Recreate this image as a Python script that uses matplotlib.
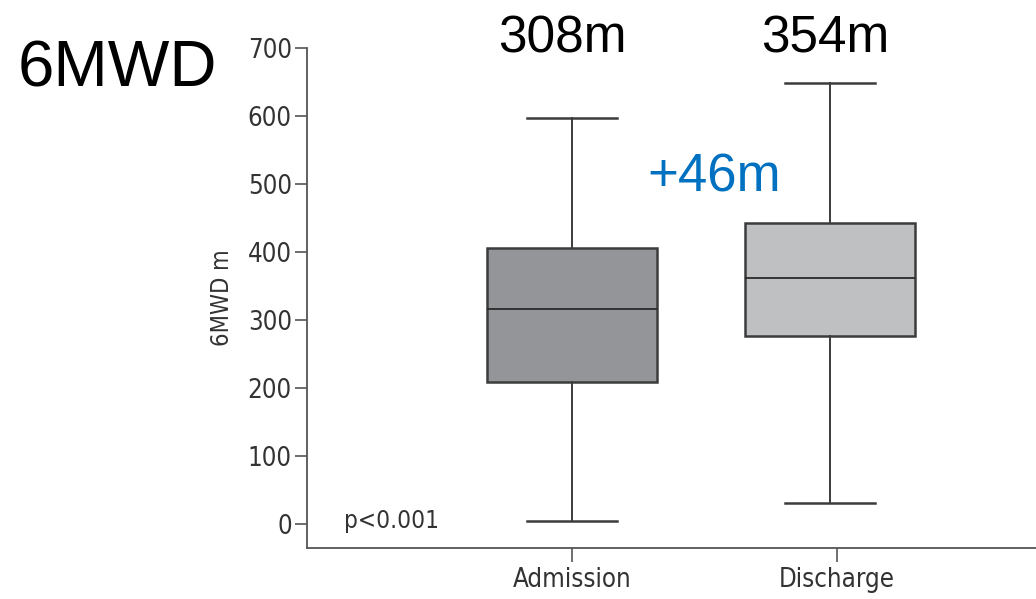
import matplotlib.pyplot as plt

# box statistics (metres)
groups = ["Admission", "Discharge"]
q1 = [209, 277]
med = [316, 362]
q3 = [406, 443]
whislo = [5, 31]
whishi = [596, 648]
box_colors = ["#949599", "#bfc0c2"]

yticks = [0, 100, 200, 300, 400, 500, 600, 700]

fig = plt.figure(figsize=(10.36, 5.99), dpi=100)
ax = fig.add_axes([0.2963, 0.0851, 0.7037, 0.8356])

stats = []
for i, g in enumerate(groups):
    stats.append({"label": g, "q1": q1[i], "med": med[i], "q3": q3[i],
                  "whislo": whislo[i], "whishi": whishi[i], "fliers": []})

edge = "#3c3c3c"
bp = ax.bxp(stats, positions=[1, 1.974], widths=0.64, capwidths=0.34,
            patch_artist=True, showfliers=False,
            boxprops=dict(edgecolor=edge, linewidth=1.8),
            whiskerprops=dict(color=edge, linewidth=1.4),
            capprops=dict(color=edge, linewidth=1.8),
            medianprops=dict(color="#2a2a2a", linewidth=1.3))
for patch, c in zip(bp["boxes"], box_colors):
    patch.set_facecolor(c)

lab = dict(family="DejaVu Sans", stretch="condensed", color="#333333")

ax.set_xlim(0, 2.75)
ax.set_ylim(-35, 700)
ax.set_yticks(yticks)
ax.set_yticklabels([str(v) for v in yticks], fontsize=18.5, **lab)
ax.set_xticks([1, 2])
ax.set_xticklabels(groups, fontsize=18.5, **lab)
for s in ["top", "right"]:
    ax.spines[s].set_visible(False)
for s in ["left", "bottom"]:
    ax.spines[s].set_color("#555555")
    ax.spines[s].set_linewidth(1.3)
ax.tick_params(axis="y", length=9, width=1.2, color="#555555", pad=2)
ax.tick_params(axis="x", length=10, width=1.2, color="#555555", pad=4)
ax.set_ylabel("6MWD m", fontsize=17, labelpad=10, **lab)

ax.text(0.14, 5, "p<0.001", fontsize=17.5, va="center", **lab)

big = "Liberation Sans"
fig.text(0.017, 0.855, "6MWD", fontsize=47, family=big, va="baseline")
ax.text(0.962, 692, "308m", fontsize=37, family=big, ha="center",
        va="baseline", clip_on=False)
ax.text(1.955, 692, "354m", fontsize=37, family=big, ha="center",
        va="baseline", clip_on=False)
ax.text(1.536, 488, "+46m", fontsize=38, family=big, color="#0070c0",
        ha="center", va="baseline")

fig.savefig("out.png", dpi=100)
